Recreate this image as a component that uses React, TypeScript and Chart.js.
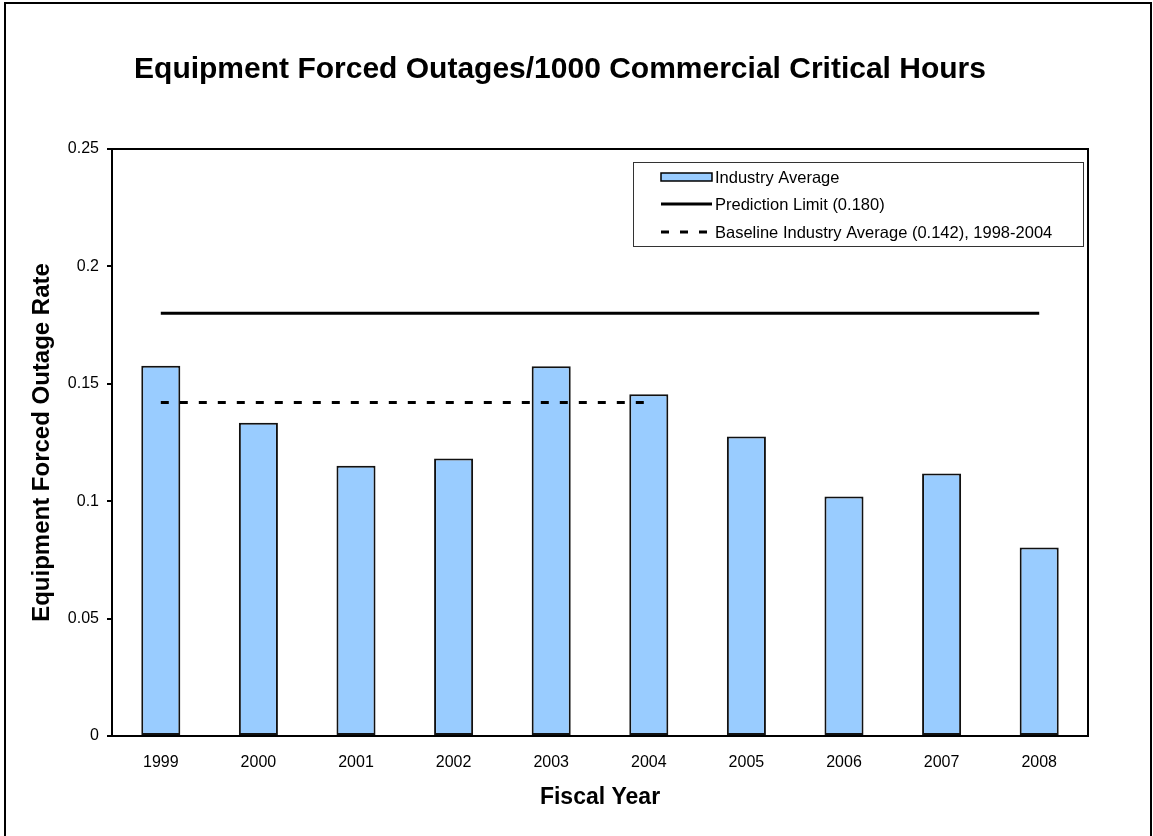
import React, { useEffect, useRef } from 'react';
import { Chart, registerables } from 'chart.js';

Chart.register(...registerables);

const chartTitle = 'Equipment Forced Outages/1000 Commercial Critical Hours';
const xAxisTitle = 'Fiscal Year';
const yAxisTitle = 'Equipment Forced Outage Rate';

const categories = ['1999', '2000', '2001', '2002', '2003', '2004', '2005', '2006', '2007', '2008'];
const industryAverage = [0.1577, 0.1334, 0.1151, 0.1182, 0.1575, 0.1455, 0.1276, 0.102, 0.1118, 0.0803];
const predictionLimit = [0.18, 0.18, 0.18, 0.18, 0.18, 0.18, 0.18, 0.18, 0.18, 0.18];
const baselineAverage = [0.142, 0.142, 0.142, 0.142, 0.142, 0.142, null, null, null, null];
const yTickLabels = ['0', '0.05', '0.1', '0.15', '0.2', '0.25'];
const legendLabels = [
  'Industry Average',
  'Prediction Limit (0.180)',
  'Baseline Industry Average (0.142), 1998-2004',
];

const FONT = "'Liberation Sans', Arial, sans-serif";
const BAR_FILL = '#99CCFF';
const DASH = [8, 11];

const framePlugin = {
  id: 'frameAndLegend',
  afterDraw(chart: any) {
    const { ctx, chartArea } = chart;
    ctx.save();
    // plot border
    ctx.strokeStyle = '#000';
    ctx.lineWidth = 2;
    ctx.strokeRect(chartArea.left, chartArea.top, chartArea.right - chartArea.left, chartArea.bottom - chartArea.top);

    // legend
    const boxW = 450;
    const boxH = 84;
    const bx = chartArea.right - 5 - boxW;
    const by = chartArea.top + 13;
    ctx.lineWidth = 1;
    ctx.strokeStyle = '#333';
    ctx.strokeRect(Math.round(bx) + 0.5, Math.round(by) + 0.5, boxW, boxH);

    const sx = bx + 28;
    const sw = 51;
    const tx = bx + 82;
    const rows = [by + 15, by + 42, by + 70];
    ctx.font = `16.5px ${FONT}`;
    ctx.textBaseline = 'middle';
    ctx.textAlign = 'left';
    ctx.fillStyle = '#000';

    // row 1: bar swatch
    ctx.fillStyle = BAR_FILL;
    ctx.fillRect(sx, rows[0] - 4, sw, 8);
    ctx.strokeStyle = '#000';
    ctx.lineWidth = 1.5;
    ctx.strokeRect(sx, rows[0] - 4, sw, 8);
    ctx.fillStyle = '#000';
    ctx.fillText(legendLabels[0], tx, rows[0] + 1);

    // row 2: solid line
    ctx.beginPath();
    ctx.lineWidth = 3;
    ctx.setLineDash([]);
    ctx.moveTo(sx, rows[1]);
    ctx.lineTo(sx + sw, rows[1]);
    ctx.stroke();
    ctx.fillText(legendLabels[1], tx, rows[1] + 1);

    // row 3: dashed line
    ctx.beginPath();
    ctx.setLineDash(DASH);
    ctx.moveTo(sx, rows[2]);
    ctx.lineTo(sx + sw, rows[2]);
    ctx.stroke();
    ctx.setLineDash([]);
    ctx.fillText(legendLabels[2], tx, rows[2] + 1);
    ctx.restore();
  },
};

export default function App() {
  const canvasRef = useRef<HTMLCanvasElement | null>(null);

  useEffect(() => {
    const canvas = canvasRef.current;
    if (!canvas) return;
    const chart = new Chart(canvas, {
      type: 'bar',
      data: {
        labels: categories,
        datasets: [
          {
            type: 'line',
            label: legendLabels[1],
            data: predictionLimit,
            borderColor: '#000',
            borderWidth: 3,
            pointRadius: 0,
            fill: false,
            order: 0,
          } as any,
          {
            type: 'line',
            label: legendLabels[2],
            data: baselineAverage,
            borderColor: '#000',
            borderWidth: 3,
            borderDash: DASH,
            pointRadius: 0,
            fill: false,
            spanGaps: false,
            order: 0,
          } as any,
          {
            type: 'bar',
            label: legendLabels[0],
            data: industryAverage,
            backgroundColor: BAR_FILL,
            borderColor: '#111',
            borderWidth: 2,
            borderSkipped: false,
            categoryPercentage: 1,
            barPercentage: 0.4,
            order: 1,
          } as any,
        ],
      },
      options: {
        responsive: false,
        animation: false,
        devicePixelRatio: 1,
        layout: { padding: { left: 32, right: 65, top: 0, bottom: 0 } },
        plugins: {
          legend: { display: false },
          tooltip: { enabled: false },
          title: {
            display: true,
            text: chartTitle,
            color: '#000',
            font: { family: FONT, size: 30, weight: 'bold' },
            padding: { top: 52, bottom: 61 },
          },
        },
        scales: {
          x: {
            offset: true,
            grid: { display: true, drawOnChartArea: false, drawTicks: false, color: 'rgba(0,0,0,0)' },
            border: { display: true, color: '#000', width: 2 },
            ticks: { color: '#000', font: { family: FONT, size: 16 }, padding: 17, maxRotation: 0 },
            title: {
              display: true,
              text: xAxisTitle,
              color: '#000',
              font: { family: FONT, size: 23, weight: 'bold' },
              padding: { top: 0, bottom: 25 },
            },
            afterFit: (scale: any) => {
              scale.height = 100;
            },
          },
          y: {
            min: 0,
            max: 0.25,
            ticks: {
              stepSize: 0.05,
              color: '#000',
              font: { family: FONT, size: 16 },
              padding: 8,
              callback: (_v: any, i: number) => yTickLabels[i],
            },
            grid: { display: true, drawOnChartArea: false, drawTicks: true, tickLength: 5, color: '#000', lineWidth: 2 },
            border: { display: true, color: '#000', width: 2 },
            title: {
              display: true,
              text: yAxisTitle,
              color: '#000',
              font: { family: FONT, size: 24, weight: 'bold' },
              padding: { top: -4, bottom: 0 },
            },
            afterFit: (scale: any) => {
              scale.width = 80;
            },
          },
        },
      },
      plugins: [framePlugin],
    });
    return () => chart.destroy();
  }, []);

  return (
    <div style={{ position: 'absolute', left: 0, top: 0, width: 1153, height: 836, overflow: 'hidden', background: '#fff' }}>
      <div
        style={{
          position: 'absolute',
          left: 4,
          top: 2,
          width: 1144,
          height: 900,
          border: '2px solid #000',
          pointerEvents: 'none',
        }}
      />
      <canvas ref={canvasRef} width={1153} height={836} style={{ position: 'absolute', left: 0, top: 0, display: 'block' }} />
    </div>
  );
}
